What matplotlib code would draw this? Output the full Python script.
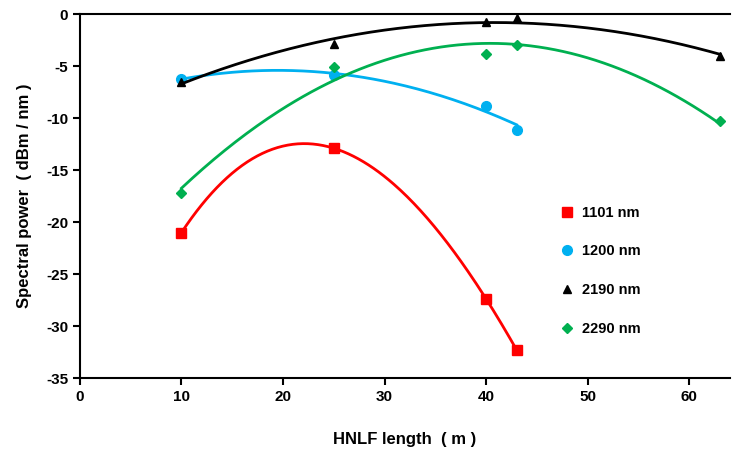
import matplotlib.pyplot as plt
import numpy as np

plt.rcParams['font.family'] = ['Liberation Sans', 'DejaVu Sans']
plt.rcParams['font.weight'] = 'bold'
plt.rcParams['axes.unicode_minus'] = False

labels = ["1101 nm", "1200 nm", "2190 nm", "2290 nm"]
x_1101 = [10, 25, 40, 43]
y_1101 = [-21.0, -12.9, -27.4, -32.3]
x_1200 = [10, 25, 40, 43]
y_1200 = [-6.2, -5.9, -8.8, -11.1]
x_2190 = [10, 25, 40, 43, 63]
y_2190 = [-6.5, -2.9, -0.8, -0.4, -4.0]
x_2290 = [10, 25, 40, 43, 63]
y_2290 = [-17.2, -5.1, -3.8, -3.0, -10.3]

# x, y, colour, marker, size, trendline order
series = [
    (x_1101, y_1101, "#FF0000", "s", 7, 3),
    (x_1200, y_1200, "#00B0F0", "o", 7, 2),
    (x_2190, y_2190, "#000000", "^", 6, 2),
    (x_2290, y_2290, "#00B050", "D", 5, 2),
]

fig = plt.figure(figsize=(7.33, 4.54), dpi=100)
ax = fig.add_axes([0.109, 0.167, 0.887, 0.802])

handles = []
for (xs, ys, color, marker, ms, deg), lab in zip(series, labels):
    coef = np.polyfit(xs, ys, deg)
    xf = np.linspace(min(xs), max(xs), 200)
    ax.plot(xf, np.polyval(coef, xf), color=color, lw=2)
    h, = ax.plot(xs, ys, linestyle="none", marker=marker, color=color,
                 markersize=ms, label=lab)
    handles.append(h)

ax.set_xlim(0, 64)
ax.set_ylim(-35, 0)
ax.set_xticks(range(0, 61, 10))
ax.set_yticks(range(-35, 1, 5))
ax.spines['right'].set_visible(False)
for s in ['left', 'bottom', 'top']:
    ax.spines[s].set_linewidth(1.5)
ax.tick_params(direction='out', width=1.5, length=5, labelsize=11)
ax.set_xlabel("HNLF length  ( m )", fontsize=12, fontweight='bold', labelpad=20)
ax.set_ylabel("Spectral power  ( dBm / nm )", fontsize=12, fontweight='bold', labelpad=10)

ax.legend(handles=handles, loc='upper left', bbox_to_anchor=(0.712, 0.51),
          frameon=False, fontsize=10.5, labelspacing=1.7, handletextpad=0.3,
          handlelength=1.5)

fig.savefig("out.png", dpi=100)
